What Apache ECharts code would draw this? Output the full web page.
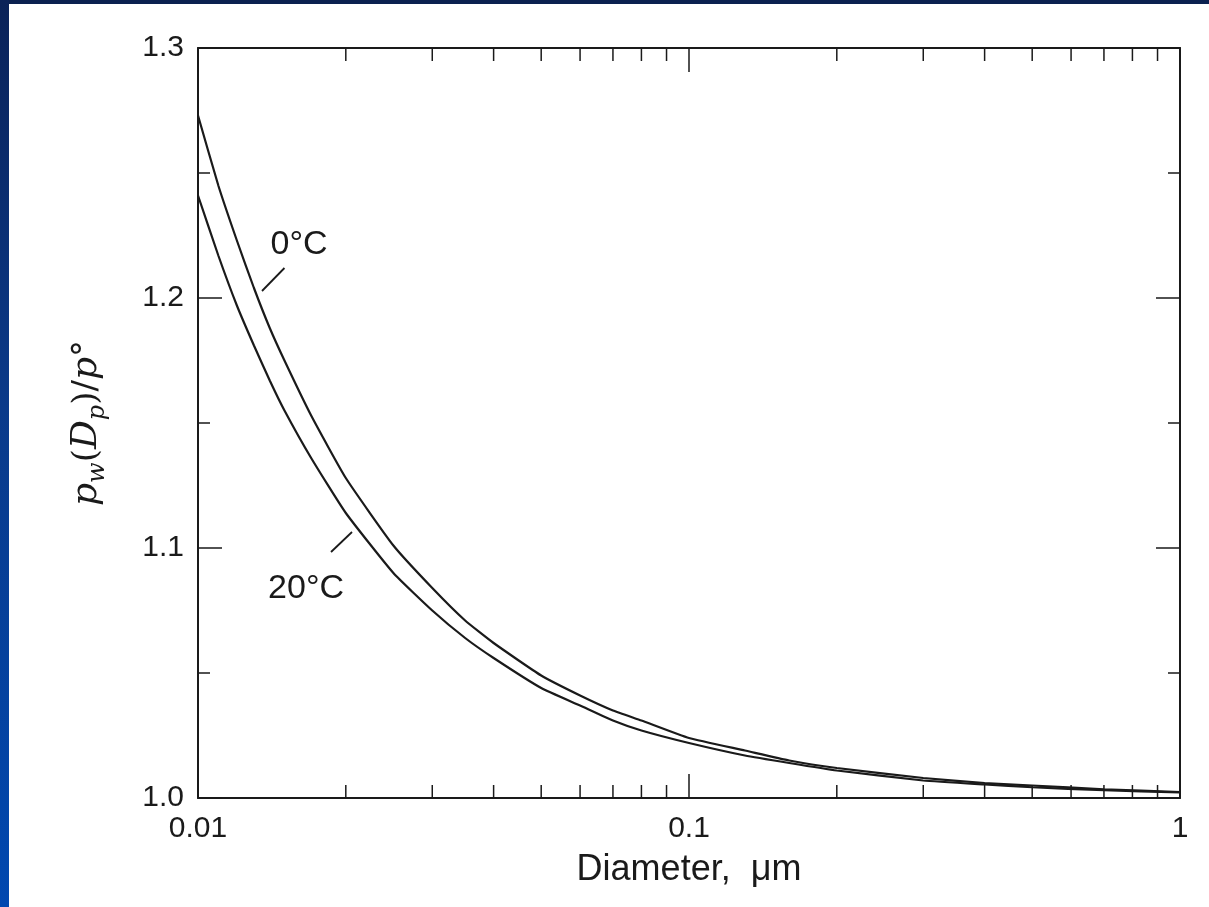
<!DOCTYPE html>
<html>
<head>
<meta charset="utf-8">
<script src="https://cdn.jsdelivr.net/npm/echarts@6/dist/echarts.min.js"></script>
<style>
	html, body { margin: 0; padding: 0; background: #fff; }
	#chart-area { position: absolute; left: 0; top: 0; width: 1209px; height: 907px; background: #fff; }
	.band-top { position: absolute; left: 0; top: 0; width: 1209px; height: 4px; background: #0b2150; }
	.band-left { position: absolute; left: 0; top: 0; width: 9px; height: 907px;
		background: linear-gradient(to bottom, #0a2258 0%, #0a3a8a 45%, #0048b0 100%); }
</style>
</head>
<body>
<div id="chart-area"></div>
<div class="band-top"></div>
<div class="band-left"></div>
<script>
// diameters in micrometres
const diameters = [0.01, 0.011, 0.012, 0.013, 0.014, 0.015, 0.017, 0.02, 0.025, 0.03, 0.035,
	0.04, 0.05, 0.06, 0.07, 0.08, 0.1, 0.13, 0.16, 0.2, 0.3, 0.4, 0.5, 0.7, 1];
const ratio0C = [1.273, 1.245, 1.223, 1.204, 1.188, 1.175, 1.153, 1.128, 1.101, 1.084, 1.071,
	1.062, 1.049, 1.041, 1.035, 1.031, 1.024, 1.019, 1.015, 1.012, 1.008, 1.006, 1.005, 1.0035, 1.0024];
const ratio20C = [1.241, 1.217, 1.197, 1.181, 1.167, 1.155, 1.136, 1.114, 1.090, 1.075, 1.064,
	1.056, 1.044, 1.037, 1.031, 1.027, 1.022, 1.017, 1.014, 1.011, 1.007, 1.0054, 1.0043, 1.0031, 1.0022];
const xMinorTicks = [0.02, 0.03, 0.04, 0.05, 0.06, 0.07, 0.08, 0.09, 0.2, 0.3, 0.4, 0.5, 0.6, 0.7, 0.8, 0.9];
const yTickLabels = ['1.0', '1.1', '1.2', '1.3'];
// curve labels: [x, y, text] and leader lines [x1, y1, x2, y2]
const curveLabels = [[0.01606, 1.2214, '0°C'], [0.0166, 1.0836, '20°C']];
const leaders = [[0.0135, 1.2028, 0.0150, 1.2120], [0.01866, 1.0984, 0.02059, 1.1064]];

let chartDom = document.getElementById('chart-area');
let myChart = echarts.init(chartDom);
let option;

const ink = '#1a1a1a';
const tickFont = { fontFamily: 'Liberation Sans', fontSize: 30, color: ink };

function xAxisBase(pos) {
	return {
		type: 'log',
		logBase: 10,
		min: 0.01,
		max: 1,
		position: pos,
		axisLine: { show: true, onZero: false, lineStyle: { color: ink, width: 2 } },
		axisTick: { show: true, inside: true, length: 24, lineStyle: { color: ink, width: 1.5 } },
		axisLabel: pos === 'bottom' ? Object.assign({ margin: 16,
			formatter: function (v) { return v >= 1 ? '1' : String(v); } }, tickFont) : { show: false },
		splitLine: { show: false }
	};
}

function yAxisBase(pos) {
	return {
		type: 'value',
		min: 1.0,
		max: 1.3,
		interval: 0.1,
		position: pos,
		axisLine: { show: true, onZero: false, lineStyle: { color: ink, width: 2 } },
		axisTick: { show: true, inside: true, length: 24, lineStyle: { color: ink, width: 1.5 } },
		minorTick: { show: true, splitNumber: 2, length: 12, lineStyle: { color: ink, width: 1.5 } },
		axisLabel: pos === 'left' ? Object.assign({ margin: 14,
			formatter: function (v) { return yTickLabels[Math.round((v - 1) * 10)]; } }, tickFont) : { show: false },
		splitLine: { show: false },
		minorSplitLine: { show: false }
	};
}

let xBottom = xAxisBase('bottom');
xBottom.name = 'Diameter,  μm';
xBottom.nameLocation = 'middle';
xBottom.nameGap = 54;
xBottom.nameTextStyle = { fontFamily: 'Liberation Sans', fontSize: 36, color: ink };

let yLeft = yAxisBase('left');
yLeft.name = '{i|p}{s|w}{n|(}{i|D}{s|p}{n|)/}{i|p}{n|°}';
yLeft.nameLocation = 'middle';
yLeft.nameRotate = 90;
yLeft.nameGap = 88;
yLeft.nameTextStyle = {
	color: ink,
	rich: {
		i: { fontFamily: 'DejaVu Serif', fontStyle: 'italic', fontSize: 36, lineHeight: 46, color: ink },
		n: { fontFamily: 'DejaVu Serif', fontSize: 34, lineHeight: 46, color: ink },
		s: { fontFamily: 'DejaVu Serif', fontStyle: 'italic', fontSize: 24, lineHeight: 26, verticalAlign: 'bottom', color: ink }
	}
};

option = {
	animation: false,
	backgroundColor: '#fff',
	grid: { left: 198, right: 29, top: 48, bottom: 109 },
	xAxis: [xBottom, xAxisBase('top')],
	yAxis: [yLeft, yAxisBase('right')],
	series: [
		{
			name: '0°C',
			type: 'line',
			showSymbol: false,
			smooth: 0.15,
			lineStyle: { color: ink, width: 2.2 },
			data: diameters.map((d, i) => [d, ratio0C[i]])
		},
		{
			name: '20°C',
			type: 'line',
			showSymbol: false,
			smooth: 0.15,
			lineStyle: { color: ink, width: 2.2 },
			data: diameters.map((d, i) => [d, ratio20C[i]])
		},
		{
			// minor ticks of the log axes, bottom and top
			type: 'custom',
			silent: true,
			clip: false,
			data: xMinorTicks.map(v => [v]),
			renderItem: function (params, api) {
				let v = api.value(0);
				let b = api.coord([v, 1.0]);
				let t = api.coord([v, 1.3]);
				let st = { stroke: ink, lineWidth: 1.5 };
				return {
					type: 'group',
					children: [
						{ type: 'line', shape: { x1: b[0], y1: b[1], x2: b[0], y2: b[1] - 13 }, style: st },
						{ type: 'line', shape: { x1: t[0], y1: t[1], x2: t[0], y2: t[1] + 13 }, style: st }
					]
				};
			}
		},
		{
			type: 'custom',
			silent: true,
			data: leaders,
			renderItem: function (params, api) {
				let a = api.coord([api.value(0), api.value(1)]);
				let b = api.coord([api.value(2), api.value(3)]);
				return { type: 'line', shape: { x1: a[0], y1: a[1], x2: b[0], y2: b[1] },
					style: { stroke: ink, lineWidth: 1.8 } };
			}
		},
		{
			type: 'custom',
			silent: true,
			data: curveLabels,
			renderItem: function (params, api) {
				let p = api.coord([api.value(0), api.value(1)]);
				return { type: 'text', x: p[0], y: p[1],
					style: { text: curveLabels[params.dataIndex][2], fontFamily: 'Liberation Sans', fontSize: 34,
						fill: ink, align: 'center', verticalAlign: 'middle' } };
			}
		}
	]
};

option && myChart.setOption(option);
</script>
</body>
</html>
